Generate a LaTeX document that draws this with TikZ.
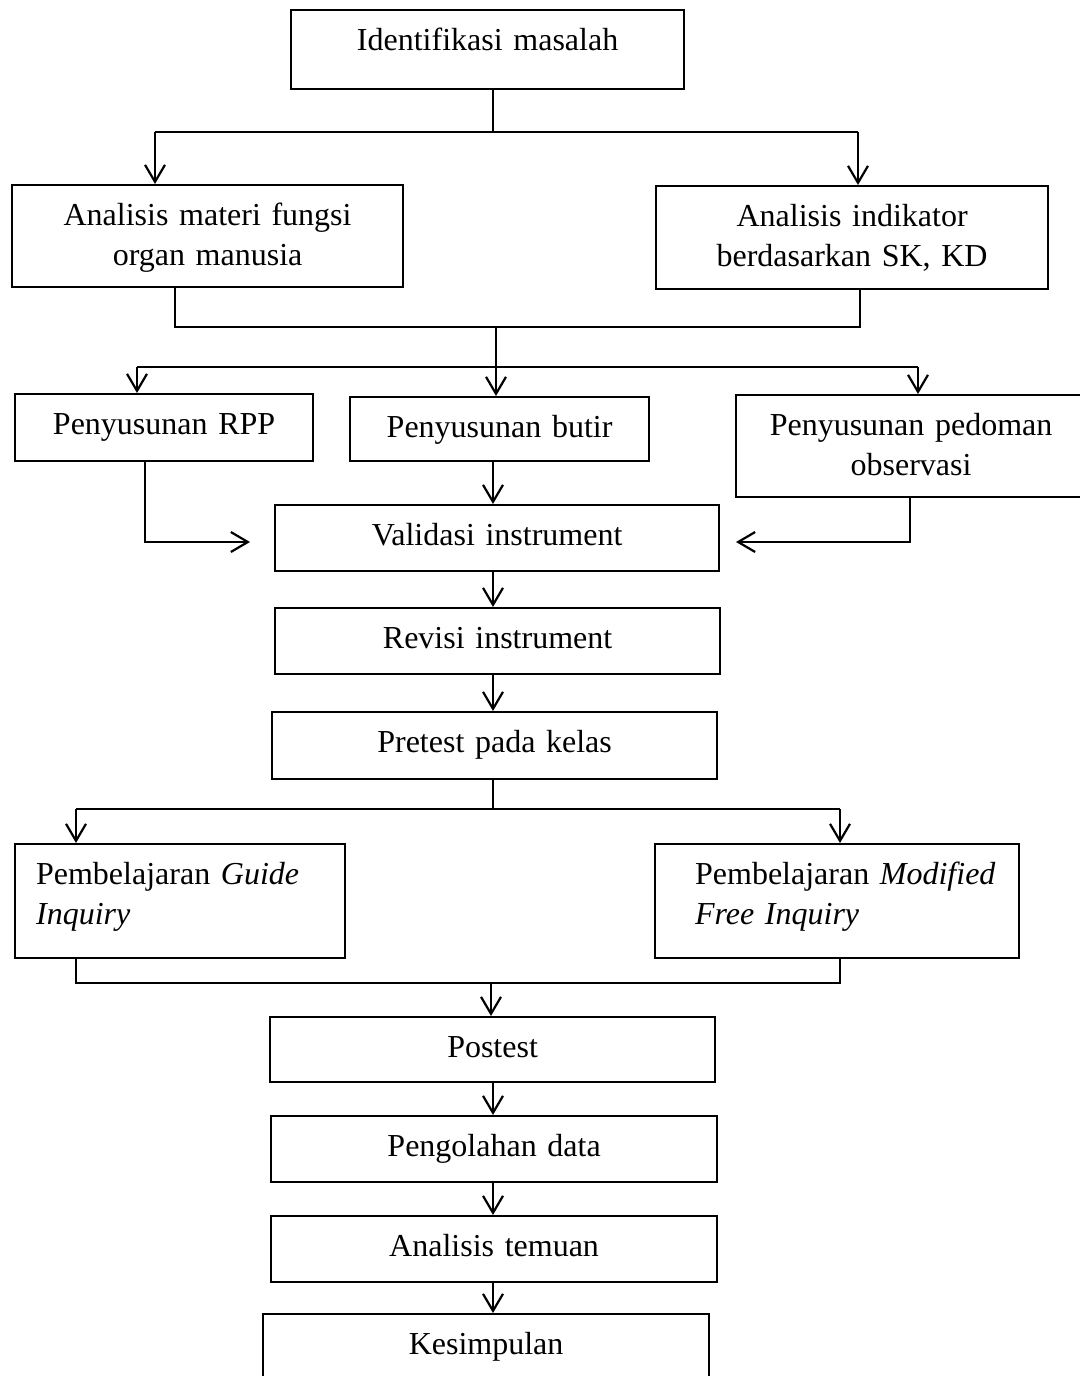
\documentclass[tikz,border=0pt]{standalone}
\usepackage{fontspec}
\setmainfont{Liberation Serif}
\usetikzlibrary{arrows.meta}

\begin{document}
\begin{tikzpicture}[x=0.5pt,y=-0.5pt,>={Straight Barb[length=8.5pt,width=10pt]},line width=1.1pt,
  kotak/.style={draw, anchor=north west, inner sep=0pt, align=center, text height=20pt, font=\fontsize{16}{20}\selectfont}]

\useasboundingbox (0,0) rectangle (1080,1376);

\node[kotak, text width=196.5pt, text depth=19.5pt] (idm) at (290,9) {Identifikasi masalah};
\node[kotak, text width=195.5pt, text depth=31pt] (anm) at (11,184) {Analisis materi fungsi\\organ manusia};
\node[kotak, text width=196pt, text depth=31.5pt] (ani) at (655,185) {Analisis indikator\\berdasarkan SK, KD};
\node[kotak, text width=149pt, text depth=13.5pt] (rpp) at (14,393) {Penyusunan RPP};
\node[kotak, text width=149.5pt, text depth=12pt] (butir) at (349,396) {Penyusunan butir};
\node[kotak, text width=175pt, text depth=31pt] (pdm) at (735,394) {Penyusunan pedoman\\observasi};
\node[kotak, text width=222pt, text depth=13pt] (valid) at (274,504) {Validasi instrument};
\node[kotak, text width=222.5pt, text depth=13pt] (revisi) at (274,607) {Revisi instrument};
\node[kotak, text width=222.5pt, text depth=13.5pt] (pre) at (271,711) {Pretest pada kelas};
\node[kotak, align=left, text width=165pt, text depth=37pt] (gi) at (14,843) {\hspace*{10.5pt}Pembelajaran \textit{Guide}\\\hspace*{10.5pt}\textit{Inquiry}};
\node[kotak, align=left, text width=182pt, text depth=37pt] (mfi) at (654,843) {\hspace*{20pt}Pembelajaran \textit{Modified}\\\hspace*{20pt}\textit{Free Inquiry}};
\node[kotak, text width=222.5pt, text depth=12.5pt] (post) at (269,1016) {Postest};
\node[kotak, text width=223pt, text depth=13pt] (olah) at (270,1115) {Pengolahan data};
\node[kotak, text width=223pt, text depth=13pt] (temuan) at (270,1215) {Analisis temuan};
\node[kotak, text width=223pt, text depth=23.5pt] (simpul) at (262,1313) {Kesimpulan};

\coordinate (tengah) at (493,0);

\coordinate (s1) at (493,132);
\coordinate (s1a) at (155,132);
\coordinate (s1b) at (858,132);
\draw (idm.south -| s1) -- (s1);
\draw (s1a) -- (s1b);
\draw[->] (s1a) -- (s1a |- anm.north);
\draw[->] (s1b) -- (s1b |- ani.north);

\coordinate (s2a) at (175,327);
\coordinate (s2b) at (860,327);
\coordinate (s3) at (496,367);
\coordinate (s3a) at (137,367);
\coordinate (s3b) at (918,367);
\draw (anm.south -| s2a) -- (s2a) -- (s2b) -- (ani.south -| s2b);
\draw (s3 |- s2a) -- (s3);
\draw (s3a) -- (s3b);
\draw[->] (s3a) -- (s3a |- rpp.north);
\draw[->] (s3) -- (s3 |- butir.north);
\draw[->] (s3b) -- (s3b |- pdm.north);

\coordinate (r1) at (145,542);
\coordinate (r2) at (250,542);
\coordinate (p1) at (910,542);
\coordinate (p2) at (736,542);
\draw[->] (rpp.south -| r1) -- (r1) -- (r2);
\draw[->] (pdm.south -| p1) -- (p1) -- (p2);
\draw[->] (butir.south -| tengah) -- (valid.north -| tengah);
\draw[->] (valid.south -| tengah) -- (revisi.north -| tengah);
\draw[->] (revisi.south -| tengah) -- (pre.north -| tengah);

\coordinate (s4) at (493,809);
\coordinate (s4a) at (76,809);
\coordinate (s4b) at (840,809);
\draw (pre.south -| s4) -- (s4);
\draw (s4a) -- (s4b);
\draw[->] (s4a) -- (s4a |- gi.north);
\draw[->] (s4b) -- (s4b |- mfi.north);

\coordinate (s5a) at (76,983);
\coordinate (s5b) at (840,983);
\coordinate (s5) at (491,983);
\draw (gi.south -| s5a) -- (s5a) -- (s5b) -- (mfi.south -| s5b);
\draw[->] (s5) -- (post.north -| s5);
\draw[->] (post.south -| tengah) -- (olah.north -| tengah);
\draw[->] (olah.south -| tengah) -- (temuan.north -| tengah);
\draw[->] (temuan.south -| tengah) -- (simpul.north -| tengah);

\end{tikzpicture}
\end{document}
